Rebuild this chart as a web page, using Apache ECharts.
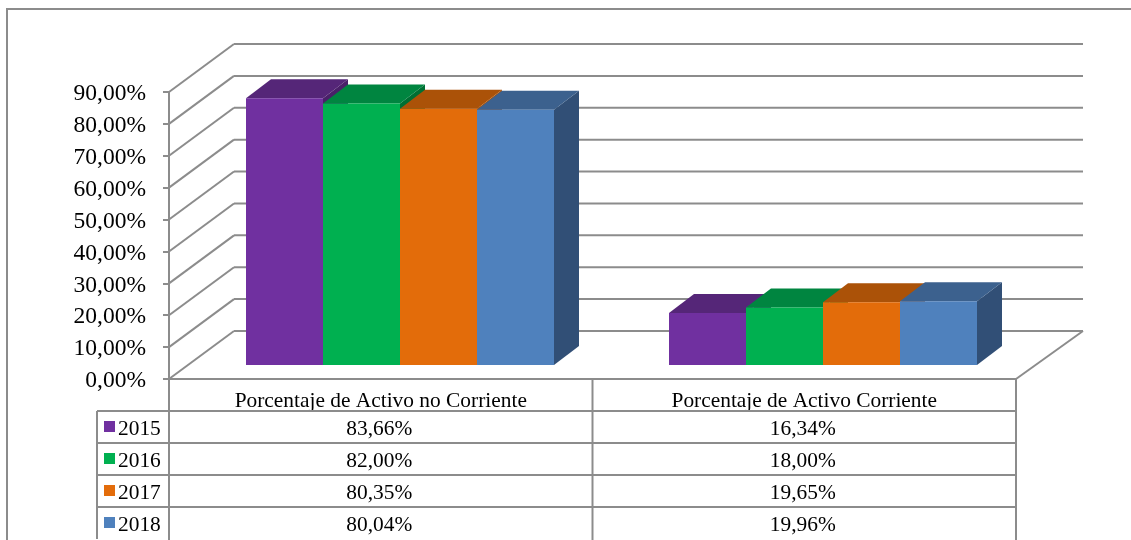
<!DOCTYPE html>
<html>
<head>
<meta charset="utf-8">
<style>
html, body { margin: 0; padding: 0; background: #fff; }
#chart { width: 1131px; height: 540px; }
</style>
<script src="https://cdn.jsdelivr.net/npm/echarts@6/dist/echarts.min.js"></script>
</head>
<body>
<div id="chart"></div>
<script>
// datos
var categorias = ['Porcentaje de Activo no Corriente', 'Porcentaje de Activo Corriente'];
var anios = ['2015', '2016', '2017', '2018'];
var v2015 = [83.66, 16.34];
var v2016 = [82.00, 18.00];
var v2017 = [80.35, 19.65];
var v2018 = [80.04, 19.96];
var valores = [v2015, v2016, v2017, v2018];
var marcasY = [0, 10, 20, 30, 40, 50, 60, 70, 80, 90];

// colores: frente, techo, lado
var colores = [
    ['#7030A0', '#552678', '#4A2069'],
    ['#00B050', '#008540', '#006F33'],
    ['#E36C0A', '#AB5208', '#AB5208'],
    ['#4F81BD', '#3C618E', '#314F76']
];

var gris = '#8C8C8C';
var fuente = '"Liberation Serif", "Times New Roman", serif';

// perspectiva en pixeles
var fondoX = 65, fondoY = -48;   // pared del fondo
var barraX = 19, barraY = -14;   // plano frontal de las barras
var profX = 25, profY = -19;     // profundidad de la barra
var anchoRel = 0.727;            // las cuatro barras / ancho de categoria

// tabla
var filaAlto = 32, tablaY = 411, leyendaX = 97;

function formato(v) {
    return v.toFixed(2).replace('.', ',') + '%';
}

function linea(x1, y1, x2, y2) {
    return {
        type: 'line',
        shape: { x1: x1, y1: y1, x2: x2, y2: y2 },
        style: { stroke: gris, lineWidth: 2 }
    };
}

function poligono(puntos, color) {
    return { type: 'polygon', shape: { points: puntos }, style: { fill: color } };
}

// pared del fondo y piso
function dibujarPared(params, api) {
    var r = params.coordSys;
    var y = api.coord([0, api.value(0)])[1];
    var hijos = [
        linea(r.x, y, r.x + fondoX, y + fondoY),
        linea(r.x + fondoX, y + fondoY, r.x + r.width + fondoX + 2, y + fondoY)
    ];
    if (api.value(0) === 0) {
        hijos.push(linea(r.x + r.width, y, r.x + r.width + fondoX + 2, y + fondoY));
    }
    return { type: 'group', children: hijos };
}

function dibujarBarra(params, api) {
    var cat = api.value(0);
    var base = api.coord([cat, 0]);
    var cima = api.coord([cat, api.value(1)]);
    var anchoBarra = api.size([1, 0])[0] * anchoRel / anios.length;
    var desde = base[0] + barraX + anchoBarra * (params.seriesIndex - 1 - anios.length / 2);
    var x1 = Math.round(desde);
    var x2 = Math.round(desde + anchoBarra);
    var y1 = cima[1] + barraY;
    var y2 = base[1] + barraY;
    var c = colores[params.seriesIndex - 1];
    return {
        type: 'group',
        children: [
            poligono([[x2, y1], [x2 + profX, y1 + profY], [x2 + profX, y2 + profY], [x2, y2]], c[2]),
            poligono([[x1, y1], [x1 + profX, y1 + profY], [x2 + profX, y1 + profY], [x2, y1]], c[1]),
            poligono([[x1, y1], [x2, y1], [x2, y2], [x1, y2]], c[0])
        ]
    };
}

// una celda de la tabla por año y categoria
function dibujarCelda(params, api) {
    var r = params.coordSys;
    var fila = api.value(0);
    var cat = api.value(1);
    var centro = api.coord([cat, 0])[0];
    var yFila = tablaY + filaAlto * fila;
    var hijos = [{
        type: 'text',
        x: centro - 1.5,
        y: yFila + filaAlto / 2 + 2,
        style: {
            text: formato(valores[fila][cat]),
            fill: '#000',
            font: '21.4px ' + fuente,
            align: 'center',
            verticalAlign: 'middle'
        }
    }];
    if (cat === 0) {
        hijos.push(linea(leyendaX, yFila, r.x, yFila));
        hijos.push(linea(leyendaX, yFila, leyendaX, yFila + filaAlto));
        hijos.push({
            type: 'rect',
            shape: { x: leyendaX + 7, y: yFila + 10, width: 11, height: 11 },
            style: { fill: colores[fila][0] }
        });
        hijos.push({
            type: 'text',
            x: leyendaX + 21,
            y: yFila + filaAlto / 2 + 2,
            style: {
                text: anios[fila],
                fill: '#000',
                font: '21.4px ' + fuente,
                align: 'left',
                verticalAlign: 'middle'
            }
        });
    }
    hijos.push(linea(r.x, yFila, r.x + r.width, yFila));
    return { type: 'group', children: hijos };
}

function dibujarVerticales(params, api) {
    var r = params.coordSys;
    var x = r.x + r.width * api.value(0) / categorias.length;
    return linea(x, r.y + r.height, x, 540);
}

var series = [{
    type: 'custom',
    renderItem: dibujarPared,
    encode: { y: 0 },
    data: marcasY.map(function(v) { return [v]; }),
    silent: true
}];

anios.forEach(function(a, i) {
    series.push({
        type: 'custom',
        name: a,
        renderItem: dibujarBarra,
        encode: { x: 0, y: 1 },
        data: valores[i].map(function(v, c) { return [c, v]; })
    });
});

var celdas = [];
anios.forEach(function(a, f) {
    categorias.forEach(function(c, k) {
        celdas.push([f, k]);
    });
});
series.push({
    type: 'custom',
    renderItem: dibujarCelda,
    encode: { x: 1 },
    data: celdas,
    silent: true
});
series.push({
    type: 'custom',
    renderItem: dibujarVerticales,
    data: [[0], [1], [2]],
    silent: true
});

var chart = echarts.init(document.getElementById('chart'));
chart.setOption({
    animation: false,
    backgroundColor: '#fff',
    graphic: [{
        type: 'polyline',
        shape: { points: [[7, 540], [7, 9], [1131, 9]] },
        style: { stroke: gris, lineWidth: 2, fill: null }
    }],
    grid: { left: 169, top: 92, width: 847, height: 287 },
    xAxis: {
        type: 'category',
        data: categorias,
        axisLine: { lineStyle: { color: gris, width: 2 } },
        axisTick: { show: false },
        axisLabel: {
            interval: 0,
            margin: 12,
            color: '#000',
            fontFamily: fuente,
            fontSize: 21.4
        }
    },
    yAxis: {
        type: 'value',
        min: 0,
        max: 90,
        interval: 10,
        axisLine: { show: true, lineStyle: { color: gris, width: 2 } },
        axisTick: { show: true, length: 6, lineStyle: { color: gris, width: 2 } },
        splitLine: { show: false },
        axisLabel: {
            margin: 23,
            verticalAlign: 'top',
            lineHeight: 4,
            color: '#000',
            fontFamily: fuente,
            fontSize: 23.5,
            formatter: function(v) { return v.toFixed(2).replace('.', ',') + '%'; }
        }
    },
    series: series
});
</script>
</body>
</html>
